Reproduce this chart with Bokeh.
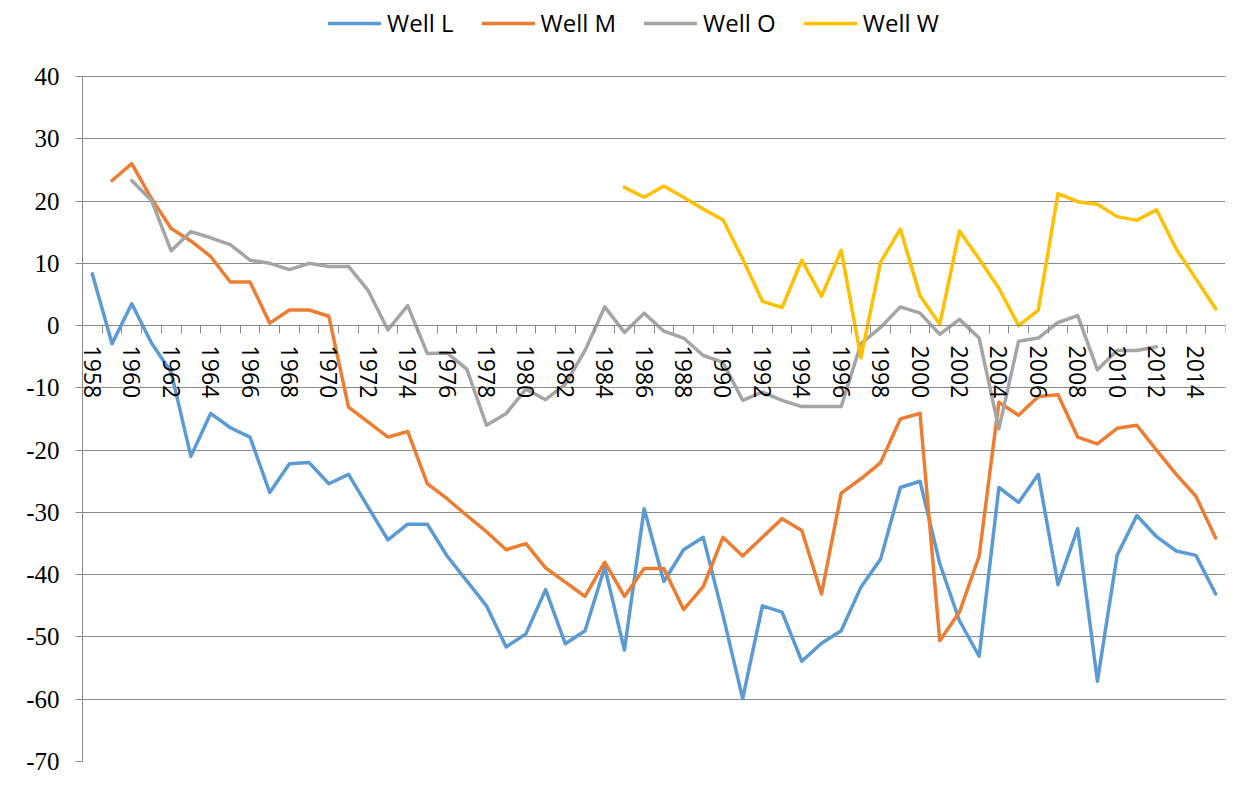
import math
import numpy as np
from bokeh.plotting import figure
from bokeh.models import Range1d, FixedTicker, Legend, LegendItem, ColumnDataSource
from bokeh.embed import file_html
from bokeh.resources import INLINE

years = list(range(1958, 2016))

well_l = [8.3, -2.9, 3.5, -2.8, -7.5, -21, -14.1, -16.4, -17.9, -26.8,
          -22.2, -22, -25.4, -23.9, -29.2, -34.4, -31.9, -31.9, -37, -41,
          -45, -51.6, -49.5, -42.4, -51.1, -49, -38.8, -52.1, -29.4, -41.1,
          -36, -34, -46.5, -59.9, -45, -46, -53.9, -51, -49, -42,
          -37.5, -26, -25, -38.2, -47.4, -53.1, -26, -28.4, -23.9, -41.6,
          -32.6, -57.1, -36.9, -30.5, -33.9, -36.2, -36.9, -43.1]

well_m = [None, 23.3, 26, 20.4, 15.6, 13.6, 11.1, 7, 7, 0.4,
          2.5, 2.5, 1.5, -13.1, -15.5, -17.9, -17, -25.4, -27.8, -30.5,
          -33.1, -36, -35, -38.9, -41.2, -43.5, -38, -43.5, -39, -39,
          -45.6, -41.9, -34, -37, -34, -31, -32.9, -43.1, -26.9, -24.6,
          -22, -15, -14.1, -50.6, -46, -37, -12.3, -14.4, -11.4, -11.1,
          -17.9, -19, -16.5, -16, -20, -23.9, -27.4, -34.1]

well_o = [None, None, 23.3, 20.1, 12, 15.1, 14.1, 13, 10.5, 10,
          9, 10, 9.5, 9.5, 5.6, -0.7, 3.2, -4.5, -4.4, -7,
          -16, -14.1, -10.2, -11.9, -9.4, -4, 3, -1.1, 2, -0.9,
          -2, -4.8, -5.9, -12, -10.7, -12, -13, -13, -13, -2.9,
          -0.3, 3, 2, -1.4, 1, -2, -16.6, -2.5, -2, 0.5,
          1.6, -7.1, -4, -4, -3.4, None, None, None]

well_w = [None] * 27 + [22.2, 20.6, 22.4, 20.6, 18.7, 17, 10.7, 3.9, 2.9, 10.5,
                       4.7, 12.1, -5.2, 10.2, 15.5, 4.8, 0.2, 15.2, 10.7, 6,
                       0, 2.5, 21.2, 19.9, 19.5, 17.5, 16.9, 18.6, 12.3, 7.5, 2.7]

series_names = ["Well L", "Well M", "Well O", "Well W"]
series_colors = ["#5B9BD5", "#ED7D31", "#A5A5A5", "#FFC000"]
series_values = [well_l, well_m, well_o, well_w]

y_min, y_max = -70, 40
y_ticks = list(range(y_min, y_max + 1, 10))
x_label_years = [y for y in years if y % 2 == 0]

# frame extends to the top of the canvas so the legend sits inside it;
# the value scale keeps -70..40 on the lower 685 px
plot_px = 685
top_px = 76
px_per_unit = plot_px / (y_max - y_min)
y_top = y_max + top_px / px_per_unit

p = figure(frame_width=1143, frame_height=plot_px + top_px,
           x_range=Range1d(years[0] - 0.5, years[-1] + 0.5),
           y_range=Range1d(y_min, y_top),
           output_backend="svg", toolbar_location=None,
           min_border_left=82, min_border_right=18,
           min_border_top=0, min_border_bottom=17)
p.outline_line_color = None
p.background_fill_color = "white"
p.border_fill_color = "white"

grid_col = "#8A8A8A"

# y axis
p.yaxis.ticker = FixedTicker(ticks=y_ticks)
p.yaxis.bounds = (y_min, y_max)
p.yaxis.major_label_overrides = {t: str(t) for t in y_ticks}
p.yaxis.axis_line_color = grid_col
p.yaxis.major_tick_line_color = grid_col
p.yaxis.major_tick_out = 7
p.yaxis.major_tick_in = 0
p.yaxis.minor_tick_line_color = None
p.yaxis.major_label_text_font = "Liberation Serif"
p.yaxis.major_label_text_font_size = "25px"
p.yaxis.major_label_text_color = "black"
p.yaxis.major_label_standoff = 16

p.ygrid.ticker = FixedTicker(ticks=y_ticks)
p.ygrid.grid_line_color = grid_col
p.ygrid.grid_line_width = 1
p.xgrid.grid_line_color = None

# x axis crossing at zero
p.xaxis.fixed_location = 0
p.xaxis.ticker = FixedTicker(ticks=x_label_years,
                             minor_ticks=[y - 0.5 for y in years] + [years[-1] + 0.5])
p.xaxis.axis_line_color = grid_col
p.xaxis.major_tick_line_color = None
p.xaxis.major_tick_out = 8
p.xaxis.major_tick_in = 0
p.xaxis.minor_tick_line_color = grid_col
p.xaxis.minor_tick_out = 8
p.xaxis.minor_tick_in = 0
p.xaxis.major_label_orientation = -math.pi / 2
p.xaxis.major_label_text_font = "Open Sans"
p.xaxis.major_label_text_font_size = "23px"
p.xaxis.major_label_text_color = "black"
p.xaxis.major_label_standoff = 12

items = []
for name, col, vals in zip(series_names, series_colors, series_values):
    src = ColumnDataSource(dict(x=years, y=np.array(vals, dtype=float)))
    r = p.line("x", "y", source=src, line_color=col, line_width=3.5,
               line_join="round", line_cap="round")
    items.append(LegendItem(label=name, renderers=[r]))

legend = Legend(items=items, orientation="horizontal", location=(246, 722),
                label_text_font="Open Sans", label_text_font_size="24px",
                label_text_color="black", label_height=24,
                glyph_width=53, glyph_height=24, label_standoff=6,
                spacing=28, padding=0, margin=0,
                border_line_color=None, background_fill_alpha=0)
p.add_layout(legend)

open("out.html", "w").write(file_html(p, INLINE))
